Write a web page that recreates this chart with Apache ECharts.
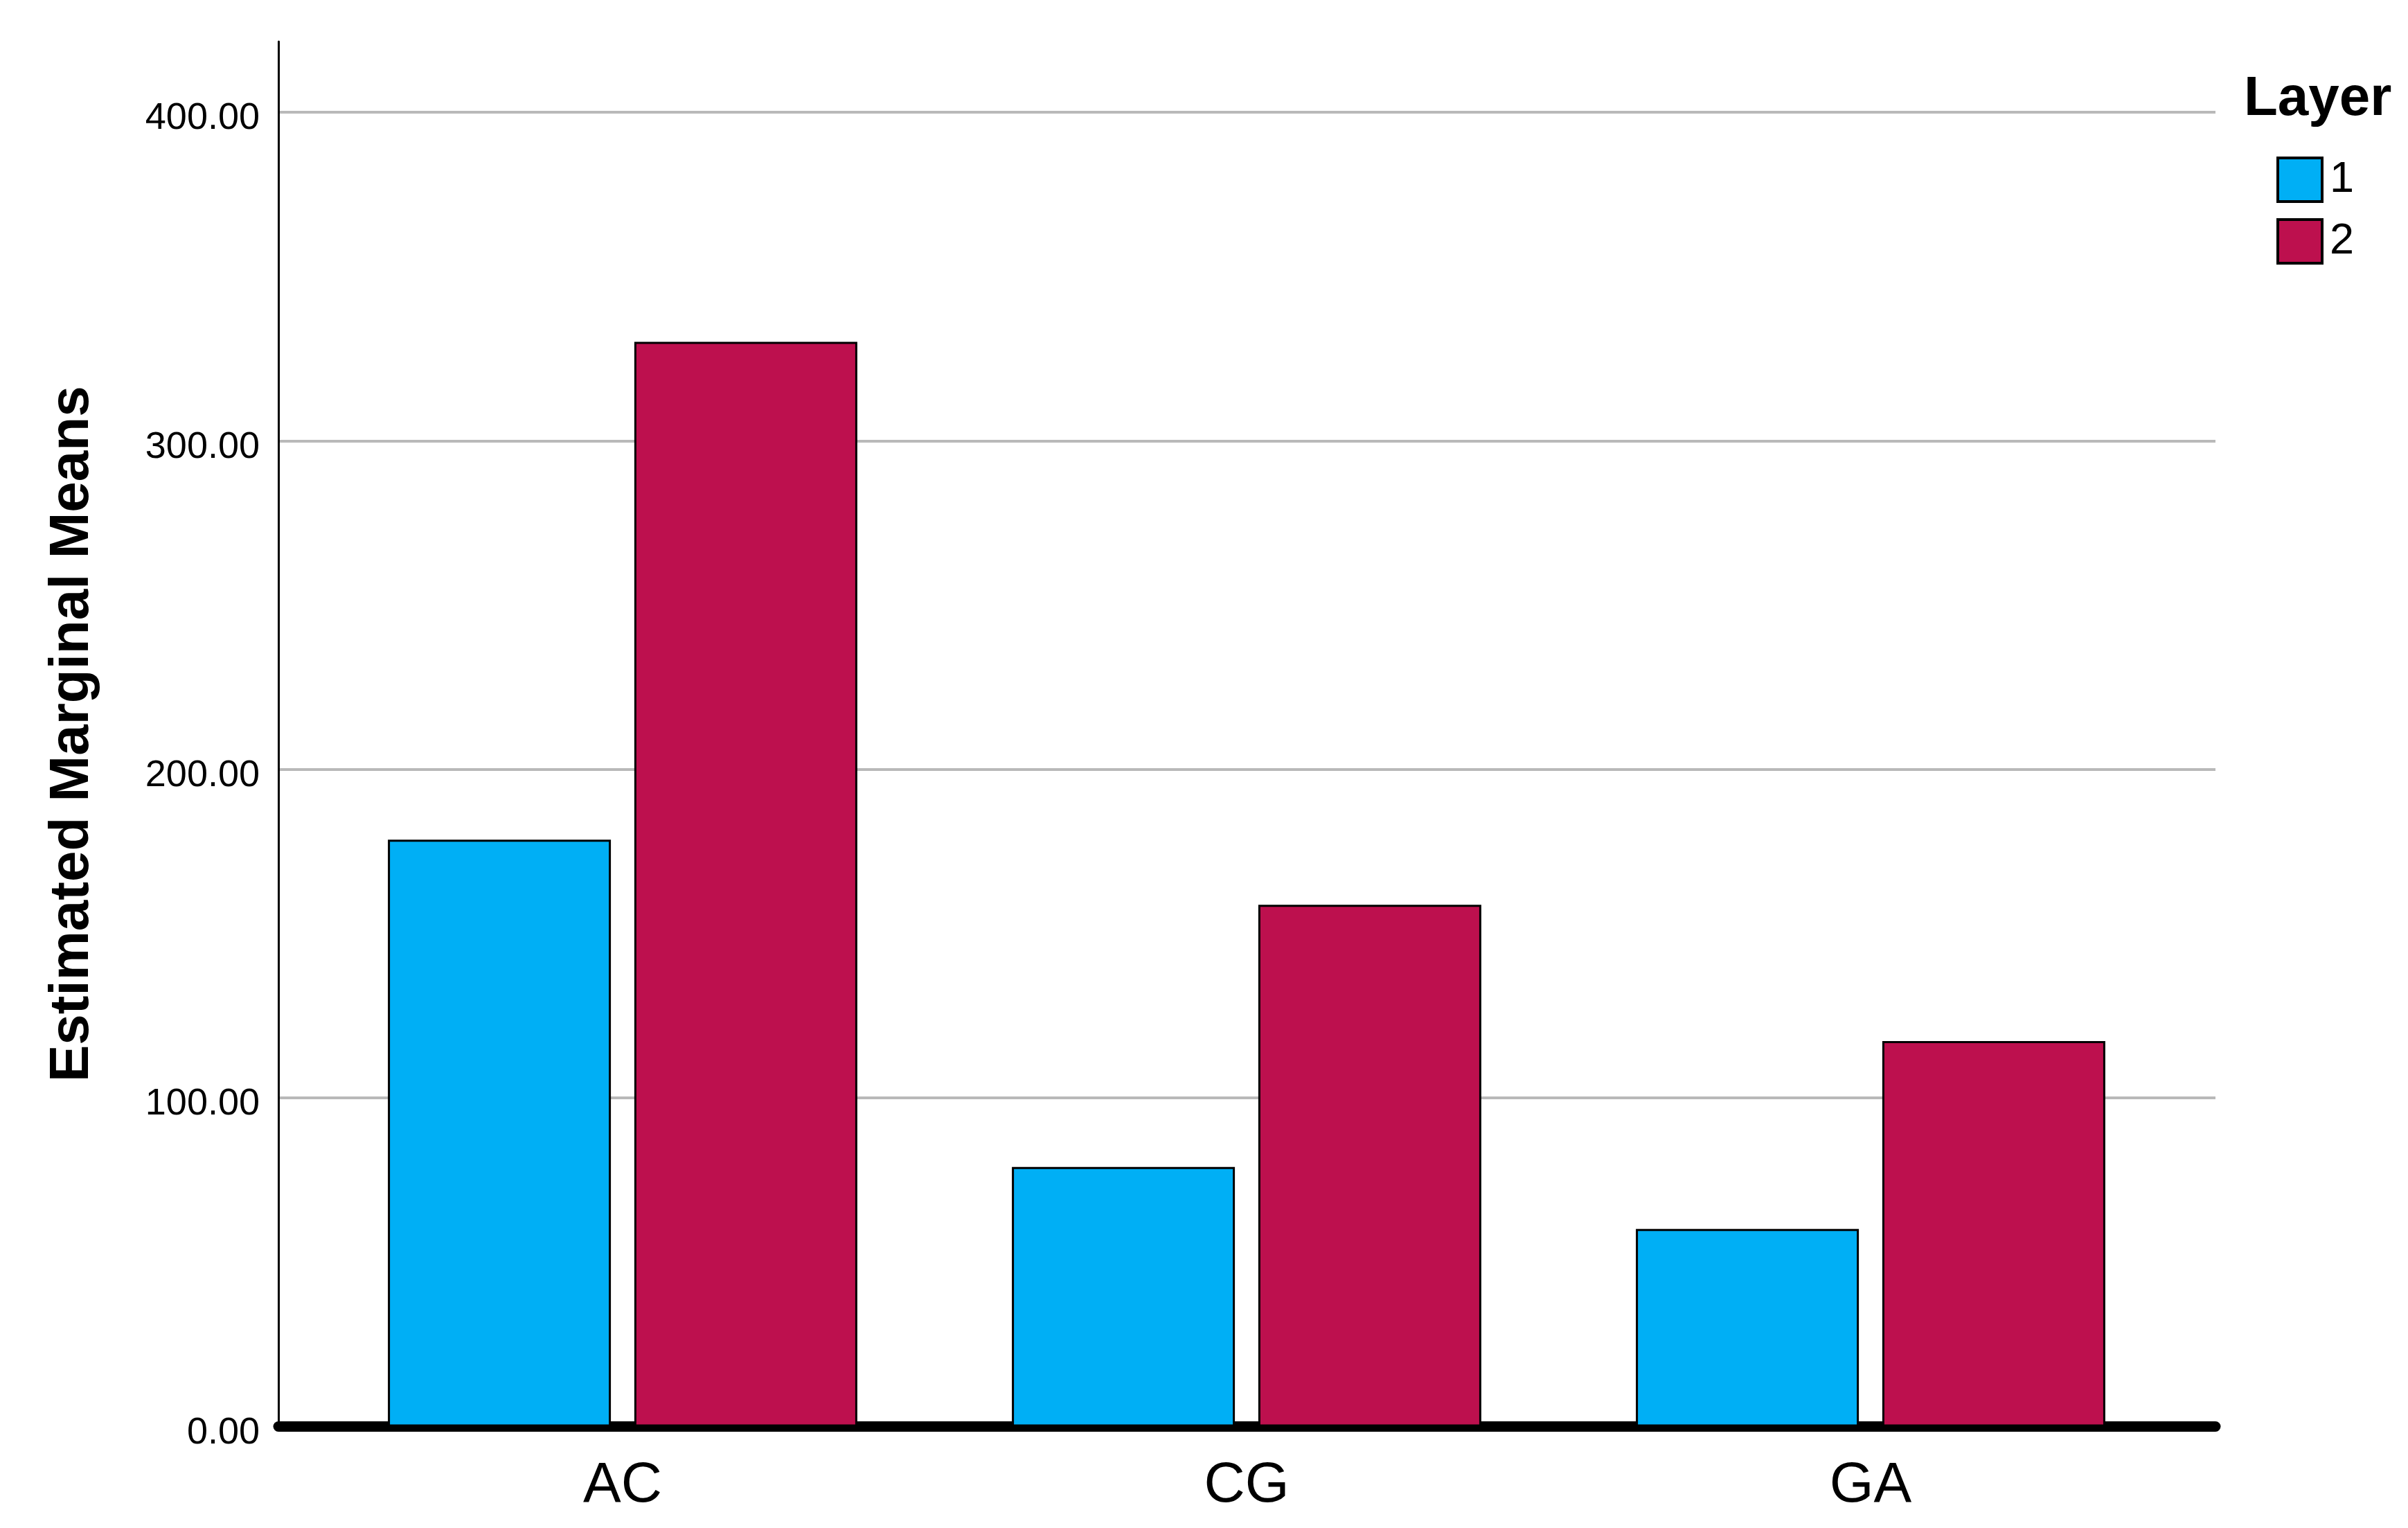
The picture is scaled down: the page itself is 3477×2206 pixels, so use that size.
<!DOCTYPE html>
<html><head><meta charset="utf-8">
<script src="https://cdn.jsdelivr.net/npm/echarts@6/dist/echarts.min.js"></script>
<style>html,body{margin:0;padding:0;background:#fff}#c{width:3477px;height:2206px}</style>
</head><body><div id="c"></div>
<script>
const categories = ['AC', 'CG', 'GA'];
const layerNames = ['1', '2'];
const layer1 = [178.6, 79.0, 60.1];
const layer2 = [330.1, 158.8, 117.3];
const yTicks = [0, 100, 200, 300, 400];
const yMax = 421.5;

const FONT = "'Liberation Sans', Arial, sans-serif";
const chart = echarts.init(document.getElementById('c'), null, {renderer: 'canvas'});
const gridTop = 60, gridBottom = 2206 - 2059.4;

chart.setOption({
  backgroundColor: '#ffffff',
  animation: false,
  title: {
    text: 'Layer', left: 3240, top: 104, padding: 0,
    textStyle: {fontFamily: FONT, fontSize: 80, fontWeight: 'bold', color: '#000'}
  },
  legend: {
    data: layerNames, orient: 'vertical', left: 3287, top: 226, padding: 0,
    itemWidth: 64, itemHeight: 63, itemGap: 22, icon: 'rect',
    itemStyle: {borderColor: '#000', borderWidth: 4},
    textStyle: {fontFamily: FONT, fontSize: 63, color: '#000', padding: [0, 0, 0, 6]}
  },
  grid: [
    {left: 402, right: 3477 - 3199, top: gridTop, bottom: gridBottom, containLabel: false},
    {left: 448.5, right: 3477 - 3151.5, top: gridTop, bottom: gridBottom, containLabel: false}
  ],
  xAxis: [
    {type: 'category', gridIndex: 0, data: categories,
     axisLine: {show: true, lineStyle: {color: '#000', width: 15}},
     axisTick: {show: false}, axisLabel: {show: false}, splitLine: {show: false}},
    {type: 'category', gridIndex: 1, data: categories,
     axisLine: {show: false}, axisTick: {show: false},
     axisLabel: {show: true, fontFamily: FONT, fontSize: 82, color: '#000', margin: 45}}
  ],
  yAxis: [
    {type: 'value', gridIndex: 0, min: 0, max: yMax, interval: 100,
     name: 'Estimated Marginal Means', nameLocation: 'middle', nameGap: 257,
     nameTextStyle: {fontFamily: FONT, fontSize: 80, fontWeight: 'bold', color: '#000'},
     axisLine: {show: true, lineStyle: {color: '#000', width: 3}},
     axisTick: {show: false},
     axisLabel: {show: true, customValues: yTicks, fontFamily: FONT, fontSize: 54, color: '#000', margin: 27,
                 verticalAlign: 'top', lineHeight: 19,
                 formatter: v => Number(v).toFixed(2)},
     splitLine: {show: true, showMinLine: false, showMaxLine: false, lineStyle: {color: '#b9b9b9', width: 4}}},
    {type: 'value', gridIndex: 1, min: 0, max: yMax, interval: 100,
     axisLine: {show: false}, axisTick: {show: false}, axisLabel: {show: false}, splitLine: {show: false}}
  ],
  series: [
    {name: layerNames[0], type: 'bar', xAxisIndex: 1, yAxisIndex: 1, data: layer1,
     barWidth: 322, barGap: '10.5%',
     itemStyle: {color: '#00AFF5', borderColor: '#000', borderWidth: 3}},
    {name: layerNames[1], type: 'bar', xAxisIndex: 1, yAxisIndex: 1, data: layer2,
     barWidth: 322, barGap: '10.5%',
     itemStyle: {color: '#BD104E', borderColor: '#000', borderWidth: 3}}
  ]
});
</script></body></html>
